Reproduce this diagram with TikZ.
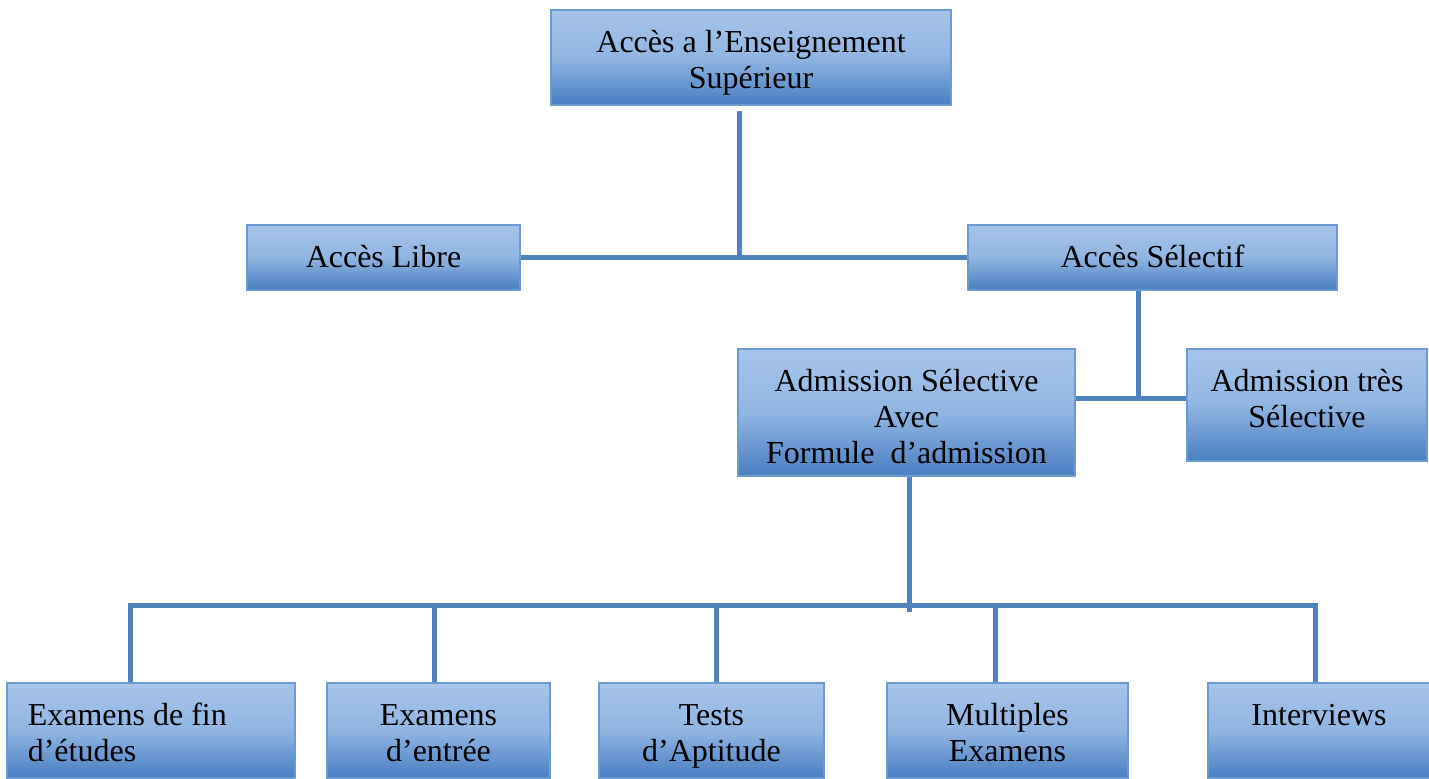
\documentclass[tikz,border=0pt]{standalone}
\usepackage{fontspec}
\setmainfont{Liberation Serif}
\definecolor{lineblue}{RGB}{79,129,189}
\definecolor{boxtop}{RGB}{166,196,233}
\definecolor{boxmid}{RGB}{145,181,226}
\definecolor{boxbot}{RGB}{72,126,193}
\definecolor{boxedge}{RGB}{108,155,212}
\tikzset{
  box/.style={rectangle, draw=boxedge, line width=0.6pt, top color=boxtop, bottom color=boxbot, middle color=boxmid,
    inner sep=0pt},
  txt/.style={inner sep=0pt, align=center, font=\fontsize{16}{18}\selectfont},
  link/.style={draw=lineblue, line width=2.5pt}
}
\begin{document}
\begin{tikzpicture}[x=0.5pt,y=-0.5pt]
\useasboundingbox (0,0) rectangle (1429,778);
\node[box, minimum width=200pt, minimum height=47.5pt] (top) at (751,57.5) {};
\node[box, minimum width=136.5pt, minimum height=32.5pt] (libre) at (383.5,257.5) {};
\node[box, minimum width=184.5pt, minimum height=32.5pt] (selectif) at (1152.5,257.5) {};
\node[box, minimum width=168.5pt, minimum height=63.5pt] (admsel) at (906.5,412.5) {};
\node[box, minimum width=120pt, minimum height=56pt] (tres) at (1307,405) {};
\node[box, minimum width=144pt, minimum height=47.5pt] (b1) at (151,730.5) {};
\node[box, minimum width=111.5pt, minimum height=47.5pt] (b2) at (438.5,730.5) {};
\node[box, minimum width=112.5pt, minimum height=47.5pt] (b3) at (711.5,730.5) {};
\node[box, minimum width=120.5pt, minimum height=47.5pt] (b4) at (1007.5,730.5) {};
\node[box, minimum width=111pt, minimum height=47.5pt] (b5) at (1319,730.5) {};
% texts
\node[txt] (top-t) at ([yshift=-2.75pt]top.center) {\strut Accès a l’Enseignement\\\strut Supérieur};
\node[txt] (libre-t) at ([yshift=-1.25pt]libre.center) {\strut Accès Libre};
\node[txt] (selectif-t) at ([yshift=-1.25pt]selectif.center) {\strut Accès Sélectif};
\node[txt] (admsel-t) at ([yshift=-4pt]admsel.center) {\strut Admission Sélective\\\strut Avec\\\strut Formule\ \ d’admission};
\node[txt] (tres-t) at ([yshift=1.5pt]tres.center) {\strut Admission très\\\strut Sélective};
\node[txt, align=left, anchor=west] (b1-t) at ([xshift=10.5pt,yshift=-2.75pt]b1.west) {\strut Examens de fin\\\strut d’études};
\node[txt] (b2-t) at ([yshift=-2.75pt]b2.center) {\strut Examens\\\strut d’entrée};
\node[txt] (b3-t) at ([yshift=-2.75pt]b3.center) {\strut Tests\\\strut d’Aptitude};
\node[txt] (b4-t) at ([yshift=-2.75pt]b4.center) {\strut Multiples\\\strut Examens};
\node[txt] (b5-t) at ([yshift=-2.75pt]b5.center) {\strut Interviews\\\strut};
% junctions
\coordinate (j1) at (739,257.5);
\coordinate (j2) at (1138,398);
\coordinate (j3) at (909,605);
\coordinate (j3end) at (909,612);
\coordinate (hl) at (130,605);
\coordinate (hr) at (1315,605);
% connectors
\draw[link] ([yshift=-2.5pt]j1 |- top.south) -- (j1);
\draw[link] (libre.east) -- (selectif.west);
\draw[link] (j2 |- selectif.south) -- (j2);
\draw[link] (admsel.east |- j2) -- (tres.west |- j2);
\draw[link] (j3 |- admsel.south) -- (j3end);
\draw[link] ([xshift=-1.25pt]hl) -- ([xshift=1.25pt]hr);
\draw[link] (hl) -- (hl |- b1.north);
\draw[link] (434,605) -- (434,605 |- b2.north);
\draw[link] (716,605) -- (716,605 |- b3.north);
\draw[link] (995,605) -- (995,605 |- b4.north);
\draw[link] (hr) -- (hr |- b5.north);
\end{tikzpicture}
\end{document}
